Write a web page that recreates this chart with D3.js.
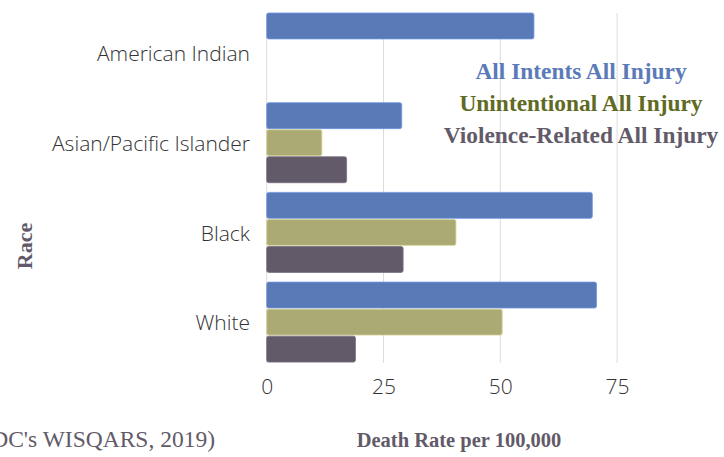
<!DOCTYPE html>
<html>
<head>
<meta charset="utf-8">
<script src="https://cdn.jsdelivr.net/npm/d3@7"></script>
<style>
  html, body { margin: 0; padding: 0; background: #fff; overflow: hidden; }
  svg { display: block; }
</style>
</head>
<body>
<svg id="chart" width="724" height="457"></svg>
<script>
const categories = ["American Indian", "Asian/Pacific Islander", "Black", "White"];
const seriesNames = ["All Intents All Injury", "Unintentional All Injury", "Violence-Related All Injury"];
const allIntents = [57.2, 28.9, 69.7, 70.6];
const unintentional = [null, 11.8, 40.5, 50.4];
const violence = [null, 17.1, 29.2, 19.0];
const tickValues = [0, 25, 50, 75];
const barColors = ["#5a7ab7", "#abaa75", "#625a68"];
const legendColors = ["#5b7bb8", "#5f6a22", "#625a68"];

const seriesValues = [allIntents, unintentional, violence];

const svg = d3.select("#chart");

const x = d3.scaleLinear().domain([0, 100]).range([266.7, 733.9]);
const y = d3.scaleBand().domain(categories).range([8.15, 366.95]).paddingInner(0.108).paddingOuter(0.054);
const ySub = d3.scaleBand().domain(d3.range(seriesNames.length)).range([0, y.bandwidth()]).paddingInner(0.04);

// gridlines
svg.append("g").selectAll("line").data(tickValues).join("line")
  .attr("x1", d => x(d)).attr("x2", d => x(d))
  .attr("y1", 13).attr("y2", 363)
  .attr("stroke", "#dcdcdc").attr("stroke-width", 1);

// bars
const rows = [];
categories.forEach((c, i) => {
  seriesValues.forEach((vals, s) => {
    if (vals[i] != null) rows.push({ cat: c, s, v: vals[i] });
  });
});
svg.append("g").selectAll("rect").data(rows).join("rect")
  .attr("x", x(0))
  .attr("y", d => y(d.cat) + ySub(d.s))
  .attr("width", d => x(d.v) - x(0))
  .attr("height", ySub.bandwidth())
  .attr("rx", 2).attr("ry", 2)
  .attr("fill", d => barColors[d.s])
  .attr("stroke", d => d3.color(barColors[d.s]).brighter(0.6))
  .attr("stroke-width", 0.8);

// x axis
const xAxis = d3.axisBottom(x).tickValues(tickValues).tickSize(0).tickPadding(0);
const gx = svg.append("g").attr("transform", "translate(0,379)").call(xAxis);
gx.select(".domain").remove();
gx.selectAll("text")
  .attr("dy", "0.71em")
  .style("font-family", "'Open Sans', sans-serif")
  .style("font-weight", 300)
  .style("font-size", "21px")
  .attr("fill", "#333");

// y axis
const yAxis = d3.axisLeft(y).tickSize(0).tickPadding(0);
const gy = svg.append("g").attr("transform", "translate(250,1.5)").call(yAxis);
gy.select(".domain").remove();
gy.selectAll("text")
  .style("font-family", "'Open Sans', sans-serif")
  .style("font-weight", 300)
  .style("font-size", "21px")
  .attr("fill", "#333");

// legend
const legend = svg.append("g");
legend.selectAll("text").data(seriesNames).join("text")
  .attr("x", 581)
  .attr("y", (d, i) => 79 + i * 32)
  .attr("text-anchor", "middle")
  .style("font-family", "'Liberation Serif', 'Times New Roman', serif")
  .style("font-weight", "bold")
  .style("font-size", "23.4px")
  .attr("fill", (d, i) => legendColors[i])
  .text(d => d);

// axis titles
svg.append("text")
  .attr("transform", "translate(32,246) rotate(-90)")
  .attr("text-anchor", "middle")
  .style("font-family", "'Liberation Serif', 'Times New Roman', serif")
  .style("font-weight", "bold")
  .style("font-size", "22px")
  .attr("fill", "#625a68")
  .text("Race");

svg.append("text")
  .attr("x", 459).attr("y", 447)
  .attr("text-anchor", "middle")
  .style("font-family", "'Liberation Serif', 'Times New Roman', serif")
  .style("font-weight", "bold")
  .style("font-size", "20.5px")
  .attr("fill", "#625a68")
  .text("Death Rate per 100,000");

svg.append("text")
  .attr("x", 215).attr("y", 447)
  .attr("text-anchor", "end")
  .style("font-family", "'Liberation Serif', 'Times New Roman', serif")
  .style("font-size", "23.5px")
  .attr("fill", "#625a68")
  .text("(CDC's WISQARS, 2019)");
</script>
</body>
</html>
